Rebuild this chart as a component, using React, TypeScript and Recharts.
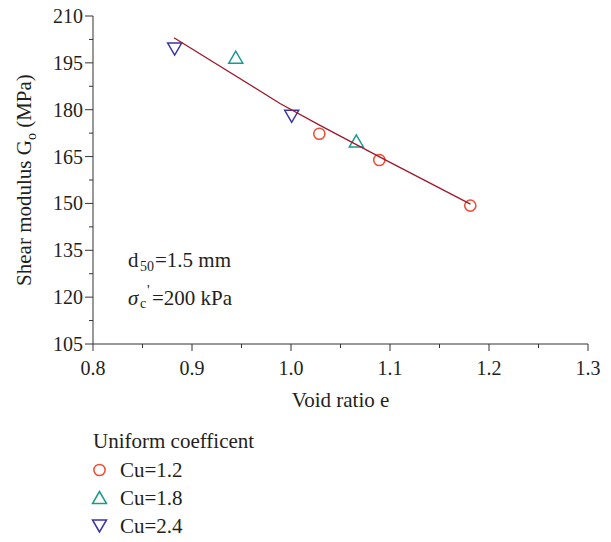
import React from 'react';
import { ScatterChart, Scatter, XAxis, YAxis, Legend } from 'recharts';

const FONT = "'Liberation Serif', 'Times New Roman', serif";
const TEXT = '#231f20';
const AXIS = '#333333';

// Cu = 1.2 (circles)
const cu12X = [1.0286, 1.0892, 1.1811];
const cu12Y = [172.3, 163.9, 149.3];
// Cu = 1.8 (up triangles)
const cu18X = [0.9442, 1.066];
const cu18Y = [196.8, 170.0];
// Cu = 2.4 (down triangles)
const cu24X = [0.8825, 1.0007];
const cu24Y = [199.4, 177.9];
// fitted curve
const fitX = [0.8818, 0.9889, 1.0293, 1.0899, 1.1813];
const fitY = [203.05, 182.0, 175.0, 164.8, 149.8];

const xTicks = [0.8, 0.85, 0.9, 0.95, 1.0, 1.05, 1.1, 1.15, 1.2, 1.25, 1.3];
const yTicks = [105, 112.5, 120, 127.5, 135, 142.5, 150, 157.5, 165, 172.5, 180, 187.5, 195, 202.5, 210];

const seriesNames = ['Cu=1.2', 'Cu=1.8', 'Cu=2.4'];
const seriesColors = ['#f04a30', '#1a9a8f', '#3b35a6'];
const fitColor = '#a0182a';
const legendTitle = 'Uniform coefficent';

const zip = (xs: number[], ys: number[]) => xs.map((x, i) => ({ x, y: ys[i] }));
const cu12 = zip(cu12X, cu12Y);
const cu18 = zip(cu18X, cu18Y);
const cu24 = zip(cu24X, cu24Y);
const fit = zip(fitX, fitY);

const fs = (size: number, extra: any = {}) => ({ fontFamily: FONT, fontSize: size, ...extra });

const CircleMark = (color: string) => (p: any) => (
  <circle cx={p.cx} cy={p.cy} r={5.6} fill="none" stroke={color} strokeWidth={1.5} />
);
const upPts = (cx: number, cy: number) => `${cx},${cy - 6} ${cx - 7},${cy + 6} ${cx + 7},${cy + 6}`;
const downPts = (cx: number, cy: number) => `${cx},${cy + 6} ${cx - 7},${cy - 6} ${cx + 7},${cy - 6}`;
const UpMark = (color: string) => (p: any) => (
  <polygon points={upPts(p.cx, p.cy)} fill="none" stroke={color} strokeWidth={1.5} />
);
const DownMark = (color: string) => (p: any) => (
  <polygon points={downPts(p.cx, p.cy)} fill="none" stroke={color} strokeWidth={1.5} />
);

const XTick = (props: any) => {
  const { x, y, payload } = props;
  const v = payload.value as number;
  const major = Math.round(v * 100) % 10 === 0;
  return (
    <g>
      <line x1={x} x2={x} y1={y} y2={y + (major ? 7 : 4)} stroke={AXIS} strokeWidth={1} />
      {major && (
        <text x={x} y={y + 31} textAnchor="middle" style={fs(20)} fill={TEXT}>
          {v.toFixed(1)}
        </text>
      )}
    </g>
  );
};

const YTick = (props: any) => {
  const { x, y, payload } = props;
  const v = payload.value as number;
  const major = v % 15 === 0;
  return (
    <g>
      <line x1={x - (major ? 8 : 4)} x2={x} y1={y} y2={y} stroke={AXIS} strokeWidth={1} />
      {major && (
        <text x={x - 10} y={y + 7} textAnchor="end" style={fs(20)} fill={TEXT}>
          {v}
        </text>
      )}
    </g>
  );
};

const YLabel = (props: any) => {
  const vb = props.viewBox || { x: 0, y: 16, width: 93, height: 328 };
  const cx = vb.x + 31;
  const cy = vb.y + vb.height / 2;
  return (
    <text
      x={cx}
      y={cy}
      textAnchor="middle"
      transform={`rotate(-90, ${cx}, ${cy})`}
      style={fs(21)}
      fill={TEXT}
    >
      Shear modulus G
      <tspan style={fs(14)} dy={5}>o</tspan>
      <tspan dy={-5}> (MPa)</tspan>
    </text>
  );
};

const XLabel = (props: any) => {
  const vb = props.viewBox || { x: 93, y: 344, width: 495, height: 198 };
  return (
    <text x={vb.x + vb.width / 2} y={vb.y + 63} textAnchor="middle" style={fs(21)} fill={TEXT}>
      Void ratio e
    </text>
  );
};

const Overlay = () => {
  const rowsY = [470, 497.5, 526];
  const marks = [
    (cx: number, cy: number, c: string) => <circle cx={cx} cy={cy} r={5.6} fill="none" stroke={c} strokeWidth={1.5} />,
    (cx: number, cy: number, c: string) => <polygon points={upPts(cx, cy)} fill="none" stroke={c} strokeWidth={1.5} />,
    (cx: number, cy: number, c: string) => <polygon points={downPts(cx, cy)} fill="none" stroke={c} strokeWidth={1.5} />,
  ];
  return (
    <svg width={611} height={542} style={{ position: 'absolute', left: 0, top: 0 }}>
      <g fill={TEXT}>
        <text x={128} y={267} style={fs(21)}>
          d
          <tspan x={140} dy={4} style={fs(14)}>50</tspan>
          <tspan x={155} dy={-4}>=1.5 mm</tspan>
        </text>
        <text x={128} y={305} style={fs(21)}>
          <tspan style={fs(21, { fontStyle: 'italic' })}>σ</tspan>
          <tspan x={140} dy={3} style={fs(14)}>c</tspan>
          <tspan x={147} dy={-13} style={fs(15)}>'</tspan>
          <tspan x={152} dy={10}>=200 kPa</tspan>
        </text>
        <text x={93} y={448} style={fs(21)}>{legendTitle}</text>
        {seriesNames.map((n, i) => (
          <g key={n}>
            {marks[i](99.5, rowsY[i], seriesColors[i])}
            <text x={120} y={rowsY[i] + 7} style={fs(21)}>{n}</text>
          </g>
        ))}
      </g>
    </svg>
  );
};

export default function App() {
  return (
    <div style={{ position: 'absolute', left: 0, top: 0, width: 611, height: 542, background: '#fff' }}>
      <ScatterChart width={611} height={542} margin={{ top: 16, right: 23, bottom: 0, left: 0 }}>
        <XAxis
          type="number"
          dataKey="x"
          domain={[0.8, 1.3]}
          ticks={xTicks}
          interval={0}
          allowDataOverflow
          height={198}
          tickSize={0}
          tickMargin={0}
          tickLine={false}
          axisLine={{ stroke: AXIS, strokeWidth: 1 }}
          tick={<XTick />}
          label={{ content: (p: any) => <XLabel {...p} /> }}
        />
        <YAxis
          type="number"
          dataKey="y"
          domain={[105, 210]}
          ticks={yTicks}
          interval={0}
          allowDataOverflow
          width={93}
          tickSize={0}
          tickMargin={0}
          tickLine={false}
          axisLine={{ stroke: AXIS, strokeWidth: 1 }}
          tick={<YTick />}
          label={{ content: (p: any) => <YLabel {...p} /> }}
        />
        <Scatter name={seriesNames[0]} data={cu12} shape={CircleMark(seriesColors[0])} isAnimationActive={false} />
        <Scatter name={seriesNames[1]} data={cu18} shape={UpMark(seriesColors[1])} isAnimationActive={false} />
        <Scatter name={seriesNames[2]} data={cu24} shape={DownMark(seriesColors[2])} isAnimationActive={false} />
        <Scatter
          name="fit"
          data={fit}
          line={{ stroke: fitColor, strokeWidth: 1.3 }}
          lineType="joint"
          shape={() => <g />}
          isAnimationActive={false}
        />
        <Legend
          layout="vertical"
          align="center"
          verticalAlign="middle"
          content={() => <Overlay />}
          wrapperStyle={{ position: 'absolute', left: 0, top: 0, width: 611, height: 542, pointerEvents: 'none' }}
        />
      </ScatterChart>
    </div>
  );
}
